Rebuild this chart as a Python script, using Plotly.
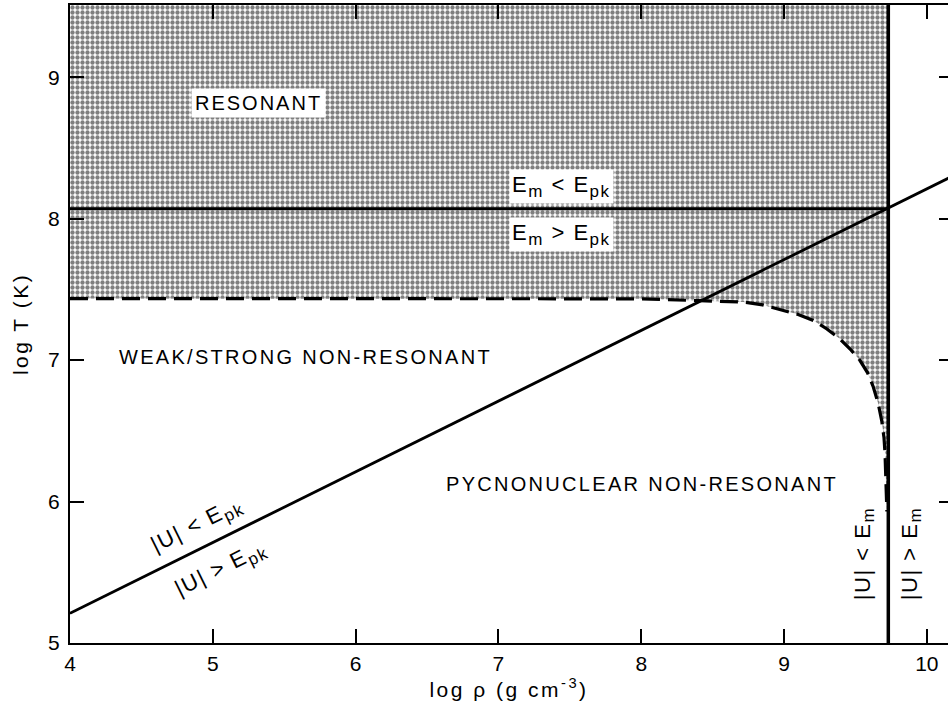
import plotly.graph_objects as go

# Axis extents (log rho, log T)
x_min, x_max = 4.0, 10.148
y_min, y_max = 5.0, 9.51
x_ticks = [4, 5, 6, 7, 8, 9, 10]
y_ticks = [5, 6, 7, 8, 9]

# Boundary between non-resonant and resonant burning (dashed)
dash_x = [4.0, 5.0, 6.0, 7.0, 8.0, 8.41, 8.60, 8.715, 8.85, 8.97, 9.09, 9.205,
          9.30, 9.39, 9.47, 9.53, 9.585, 9.625, 9.66, 9.684, 9.70, 9.707, 9.714, 9.72]
dash_y = [7.435, 7.435, 7.435, 7.435, 7.433, 7.42, 7.415, 7.41, 7.39, 7.36, 7.325, 7.28,
          7.22, 7.15, 7.07, 7.0, 6.91, 6.81, 6.69, 6.57, 6.45, 6.34, 6.15, 5.93]

# E_m = E_pk line
em_x = [4.0, 9.73]
em_y = [8.07, 8.07]

# |U| = E_pk line
u_x = [4.0, 10.3]
u_y = [5.21, 8.36]

# |U| = E_m line
um_x = [9.73, 9.73]
um_y = [y_min, y_max]

FONT = "Liberation Sans"


def spaced(s, ls=3.0):
    return f'<span style="letter-spacing:{ls}px">{s}</span>'


def sub(s, px=16):
    return f'<sub><span style="font-size:{px}px">{s}</span></sub>'


fig = go.Figure()

# Stippled resonant region: above the dashed boundary, left of |U| = E_m
fill_x = dash_x + [um_x[0], um_x[0], dash_x[0]]
fill_y = dash_y + [dash_y[-1], y_max, y_max]
fig.add_trace(go.Scatter(
    x=fill_x, y=fill_y, mode="lines", fill="toself",
    line=dict(width=0, color="rgba(0,0,0,0)"),
    fillcolor="white",
    fillpattern=dict(shape=".", size=5, solidity=0.6, fgcolor="black",
                     bgcolor="white", fillmode="overlay"),
    hoverinfo="skip", showlegend=False,
))

fig.add_trace(go.Scatter(x=dash_x, y=dash_y, mode="lines",
                         line=dict(color="black", width=3.2, dash="18px,8px"),
                         showlegend=False, hoverinfo="skip"))
fig.add_trace(go.Scatter(x=em_x, y=em_y, mode="lines",
                         line=dict(color="black", width=3),
                         showlegend=False, hoverinfo="skip"))
fig.add_trace(go.Scatter(x=u_x, y=u_y, mode="lines",
                         line=dict(color="black", width=2.8),
                         showlegend=False, hoverinfo="skip"))
fig.add_trace(go.Scatter(x=um_x, y=um_y, mode="lines",
                         line=dict(color="black", width=3.5),
                         showlegend=False, hoverinfo="skip", yaxis="y2"))

ann_font = dict(family=FONT, size=20, color="black")
big_font = dict(family=FONT, size=22, color="black")
annotations = [
    dict(x=4.85, y=8.82, text=spaced("RESONANT", 2.0), xanchor="left",
         bgcolor="white", borderpad=3),
    dict(x=7.445, y=8.23, text=spaced("E" + sub("m", 17) + " &lt; E" + sub("pk", 17), 1.5),
         bgcolor="white", borderpad=2, font=big_font),
    dict(x=7.445, y=7.89, text=spaced("E" + sub("m", 17) + " &gt; E" + sub("pk", 17), 1.5),
         bgcolor="white", borderpad=2, font=big_font),
    dict(x=4.33, y=7.02, text=spaced("WEAK/STRONG NON-RESONANT", 2.3), xanchor="left"),
    dict(x=6.62, y=6.127, text=spaced("PYCNONUCLEAR NON-RESONANT", 2.3), xanchor="left"),
    dict(x=4.896, y=5.83, text=spaced("|U| &lt; E" + sub("pk", 17), 1.5), textangle=-26.4,
         font=big_font),
    dict(x=5.06, y=5.52, text=spaced("|U| &gt; E" + sub("pk", 17), 1.5), textangle=-26.4,
         font=big_font),
    dict(x=9.56, y=5.628, text=spaced("|U| &lt; E" + sub("m", 17), 1.5), textangle=-90,
         font=big_font),
    dict(x=9.889, y=5.628, text=spaced("|U| &gt; E" + sub("m", 17), 1.5), textangle=-90,
         font=big_font),
]
for a in annotations:
    a.update(xref="x", yref="y", showarrow=False)
    a.setdefault("font", ann_font)

axis_common = dict(
    showgrid=False, zeroline=False, ticks="inside", ticklen=14, tickwidth=2,
    tickcolor="black", linecolor="black", linewidth=2,
    tickfont=dict(family=FONT, size=21, color="black"),
)

fig.update_layout(
    width=948, height=706,
    margin=dict(l=70, r=0, t=5, b=63),
    paper_bgcolor="white", plot_bgcolor="white",
    annotations=annotations,
    xaxis=dict(range=[x_min, x_max], tickvals=x_ticks, showline=True,
               mirror="ticks", ticklabelstandoff=1,
               title=dict(text=spaced("log ρ (g cm<sup>-3</sup>)", 2.5),
                          font=dict(family=FONT, size=21, color="black"),
                          standoff=2),
               **axis_common),
    yaxis=dict(range=[y_min, y_max], tickvals=y_ticks, showline=True,
               mirror=False, ticklabelstandoff=4,
               title=dict(text=spaced("log T (K)", 2.5),
                          font=dict(family=FONT, size=21, color="black"),
                          standoff=14),
               **axis_common),
    yaxis2=dict(range=[y_min, y_max], tickvals=y_ticks, overlaying="y",
                side="right", showline=False, showgrid=False, zeroline=False,
                ticks="inside", ticklen=9, tickwidth=2, tickcolor="black",
                showticklabels=False),
)

fig.write_html("out.html")
